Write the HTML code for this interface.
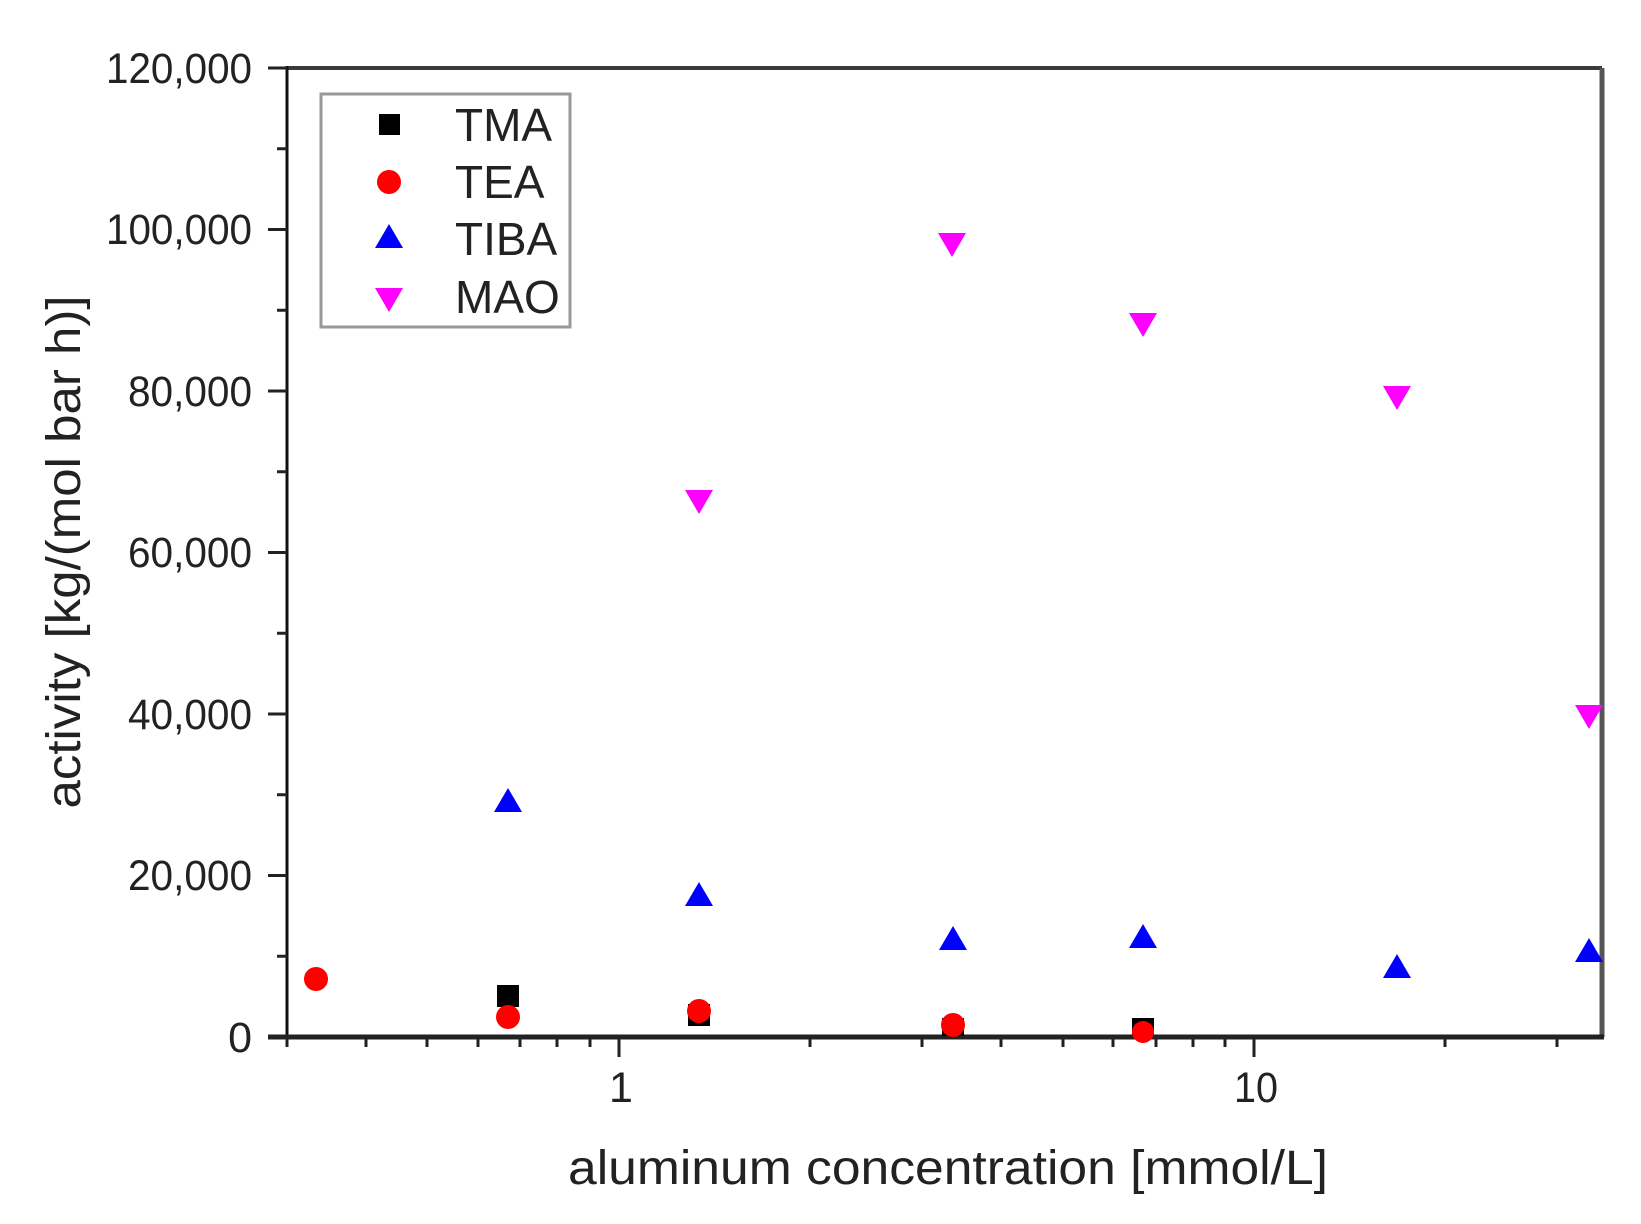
<!DOCTYPE html>
<html><head><meta charset="utf-8"><style>html,body{margin:0;padding:0;background:#fff}svg{display:block}</style></head>
<body>
<svg width="1641" height="1224" viewBox="0 0 1641 1224" xmlns="http://www.w3.org/2000/svg" font-family="Liberation Sans, Arial, sans-serif">
<rect width="1641" height="1224" fill="#fff"/>
<!-- frame -->
<line x1="287" y1="68" x2="1602" y2="68" stroke="#3a3a3a" stroke-width="4"/>
<line x1="1602" y1="68" x2="1602" y2="1037" stroke="#555" stroke-width="5"/>
<line x1="287" y1="66" x2="287" y2="1039" stroke="#111" stroke-width="3"/>
<line x1="268" y1="1037" x2="1604" y2="1037" stroke="#222" stroke-width="5"/>
<!-- y ticks -->
<g stroke="#222" stroke-width="3">
<line x1="268" y1="68" x2="287" y2="68"/><line x1="277" y1="148.75" x2="287" y2="148.75"/>
<line x1="268" y1="229.5" x2="287" y2="229.5"/><line x1="277" y1="310.25" x2="287" y2="310.25"/>
<line x1="268" y1="391" x2="287" y2="391"/><line x1="277" y1="471.75" x2="287" y2="471.75"/>
<line x1="268" y1="552.5" x2="287" y2="552.5"/><line x1="277" y1="633.25" x2="287" y2="633.25"/>
<line x1="268" y1="714" x2="287" y2="714"/><line x1="277" y1="794.75" x2="287" y2="794.75"/>
<line x1="268" y1="875.5" x2="287" y2="875.5"/><line x1="277" y1="956.25" x2="287" y2="956.25"/>
</g>
<g font-size="43" fill="#222" text-anchor="end" lengthAdjust="spacingAndGlyphs">
<text x="252" y="83" textLength="146" lengthAdjust="spacingAndGlyphs">120,000</text>
<text x="252" y="244" textLength="146" lengthAdjust="spacingAndGlyphs">100,000</text>
<text x="252" y="406" textLength="124" lengthAdjust="spacingAndGlyphs">80,000</text>
<text x="252" y="567" textLength="124" lengthAdjust="spacingAndGlyphs">60,000</text>
<text x="252" y="729" textLength="124" lengthAdjust="spacingAndGlyphs">40,000</text>
<text x="252" y="890" textLength="124" lengthAdjust="spacingAndGlyphs">20,000</text>
<text x="252" y="1052">0</text>
</g>
<!-- x ticks -->
<g stroke="#222" stroke-width="3">
<line x1="287" y1="1037" x2="287" y2="1047"/>
<line x1="366" y1="1037" x2="366" y2="1047"/>
<line x1="427" y1="1037" x2="427" y2="1047"/>
<line x1="478" y1="1037" x2="478" y2="1047"/>
<line x1="520" y1="1037" x2="520" y2="1047"/>
<line x1="557" y1="1037" x2="557" y2="1047"/>
<line x1="590" y1="1037" x2="590" y2="1047"/>
<line x1="619" y1="1037" x2="619" y2="1057"/>
<line x1="810" y1="1037" x2="810" y2="1047"/>
<line x1="922" y1="1037" x2="922" y2="1047"/>
<line x1="1001" y1="1037" x2="1001" y2="1047"/>
<line x1="1063" y1="1037" x2="1063" y2="1047"/>
<line x1="1113" y1="1037" x2="1113" y2="1047"/>
<line x1="1156" y1="1037" x2="1156" y2="1047"/>
<line x1="1193" y1="1037" x2="1193" y2="1047"/>
<line x1="1225" y1="1037" x2="1225" y2="1047"/>
<line x1="1254" y1="1037" x2="1254" y2="1057"/>
<line x1="1445" y1="1037" x2="1445" y2="1047"/>
<line x1="1557" y1="1037" x2="1557" y2="1047"/>
</g>
<g font-size="43" fill="#222" text-anchor="middle">
<text x="621" y="1102">1</text>
<text x="1256" y="1102" textLength="44" lengthAdjust="spacingAndGlyphs">10</text>
</g>
<text x="948" y="1184" font-size="48" fill="#222" text-anchor="middle" textLength="760" lengthAdjust="spacingAndGlyphs">aluminum concentration [mmol/L]</text>
<text transform="translate(80,552) rotate(-90)" font-size="48" fill="#222" text-anchor="middle" textLength="513" lengthAdjust="spacingAndGlyphs">activity [kg/(mol bar h)]</text>
<!-- MAO -->
<g fill="#ff00ff">
<polygon points="685,490 713,490 699,514"/>
<polygon points="938,233 966,233 952,257"/>
<polygon points="1129,313 1157,313 1143,337"/>
<polygon points="1383,386 1411,386 1397,410"/>
<polygon points="1575,705 1603,705 1589,729"/>
</g>
<!-- TIBA -->
<g fill="#0000ff">
<polygon points="494,812 522,812 508,788"/>
<polygon points="685,906 713,906 699,882"/>
<polygon points="939,950 967,950 953,926"/>
<polygon points="1129,948 1157,948 1143,924"/>
<polygon points="1383,978 1411,978 1397,954"/>
<polygon points="1575,962 1603,962 1589,938"/>
</g>
<!-- TMA -->
<g fill="#000">
<rect x="497" y="985" width="22" height="22"/>
<rect x="688" y="1004" width="22" height="22"/>
<rect x="942" y="1018" width="22" height="18"/>
<rect x="1132" y="1018" width="22" height="18"/>
</g>
<!-- TEA -->
<g fill="#ff0000">
<circle cx="316" cy="979" r="12"/>
<circle cx="508" cy="1017" r="12"/>
<circle cx="699" cy="1011" r="12"/>
<circle cx="953" cy="1025" r="12"/>
<circle cx="1143" cy="1032" r="11"/>
</g>
<!-- legend -->
<rect x="321" y="94" width="249" height="233" fill="#fff" stroke="#999" stroke-width="3"/>
<rect x="379" y="114" width="21" height="21" fill="#000"/>
<circle cx="389" cy="182" r="12" fill="#ff0000"/>
<polygon points="375,248 403,248 389,224" fill="#0000ff"/>
<polygon points="375,288 403,288 389,312" fill="#ff00ff"/>
<g font-size="46" fill="#222">
<text x="455" y="141">TMA</text>
<text x="455" y="198">TEA</text>
<text x="455" y="255">TIBA</text>
<text x="455" y="313">MAO</text>
</g>
</svg>
</body></html>
